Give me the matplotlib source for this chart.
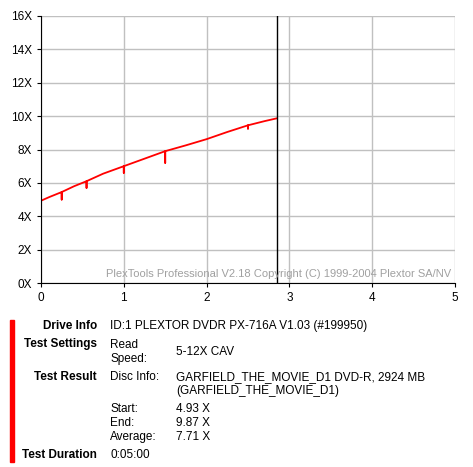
import matplotlib.pyplot as plt

# read speed curve (position in GB, speed in X)
pos = [0.0, 0.1, 0.2, 0.25, 0.25, 0.25, 0.4, 0.55, 0.55, 0.55, 0.75, 1.0, 1.0, 1.0,
       1.25, 1.5, 1.5, 1.5, 1.75, 2.0, 2.25, 2.5, 2.5, 2.5, 2.7, 2.85]
speed = [4.93, 5.15, 5.35, 5.45, 5.0, 5.45, 5.8, 6.1, 5.7, 6.1, 6.55, 7.0, 6.6, 7.0,
         7.45, 7.9, 7.2, 7.9, 8.25, 8.62, 9.05, 9.45, 9.25, 9.45, 9.7, 9.87]
end_pos = 2.85

xticks = [0, 1, 2, 3, 4, 5]
yticks = [0, 2, 4, 6, 8, 10, 12, 14, 16]

labels = ["Drive Info", "Test Settings", "Test Result", "Test Duration"]

plt.rcParams['font.family'] = ['Liberation Sans', 'DejaVu Sans']
fig = plt.figure(figsize=(4.73, 4.67), dpi=100)
ax = fig.add_axes([41/473, 1 - 283/467, 414/473, 267/467])
ax.plot(pos, speed, color='red', linewidth=1.3)
ax.axvline(end_pos, color='black', linewidth=1)
ax.set_xlim(0, 5)
ax.set_ylim(0, 16)
ax.set_xticks(xticks)
ax.set_yticks(yticks)
ax.set_yticklabels([f"{v}X" for v in yticks])
ax.grid(True, color='#c0c0c0', linewidth=1)
ax.set_axisbelow(True)
ax.tick_params(labelsize=8.5, length=3)
for s in ['top', 'right']:
    ax.spines[s].set_visible(False)
ax.text(4.95, 0.25, "PlexTools Professional V2.18 Copyright (C) 1999-2004 Plextor SA/NV",
        ha='right', va='bottom', fontsize=8, color='#a0a0a0')

# info block
fig.patches.append(plt.Rectangle((10/473, 1 - 462/467), 4/473, 142/467,
                                 transform=fig.transFigure, color='red'))
def t(x, y, s, bold=False, ha='left'):
    fig.text(x/473, 1 - y/467, s, fontsize=8.5, ha=ha, va='center',
             fontweight='bold' if bold else 'normal')
t(97, 326, labels[0], True, 'right')
t(110, 326, "ID:1 PLEXTOR DVDR PX-716A V1.03 (#199950)")
t(97, 344, labels[1], True, 'right')
t(110, 345, "Read")
t(110, 359, "Speed:")
t(176, 352, "5-12X CAV")
t(97, 377, labels[2], True, 'right')
t(110, 377, "Disc Info:")
t(176, 377, "GARFIELD_THE_MOVIE_D1 DVD-R, 2924 MB")
t(176, 391, "(GARFIELD_THE_MOVIE_D1)")
t(110, 409, "Start:")
t(176, 409, "4.93 X")
t(110, 423, "End:")
t(176, 423, "9.87 X")
t(110, 437, "Average:")
t(176, 437, "7.71 X")
t(97, 455, labels[3], True, 'right')
t(110, 455, "0:05:00")

fig.savefig("out.png", dpi=100)
